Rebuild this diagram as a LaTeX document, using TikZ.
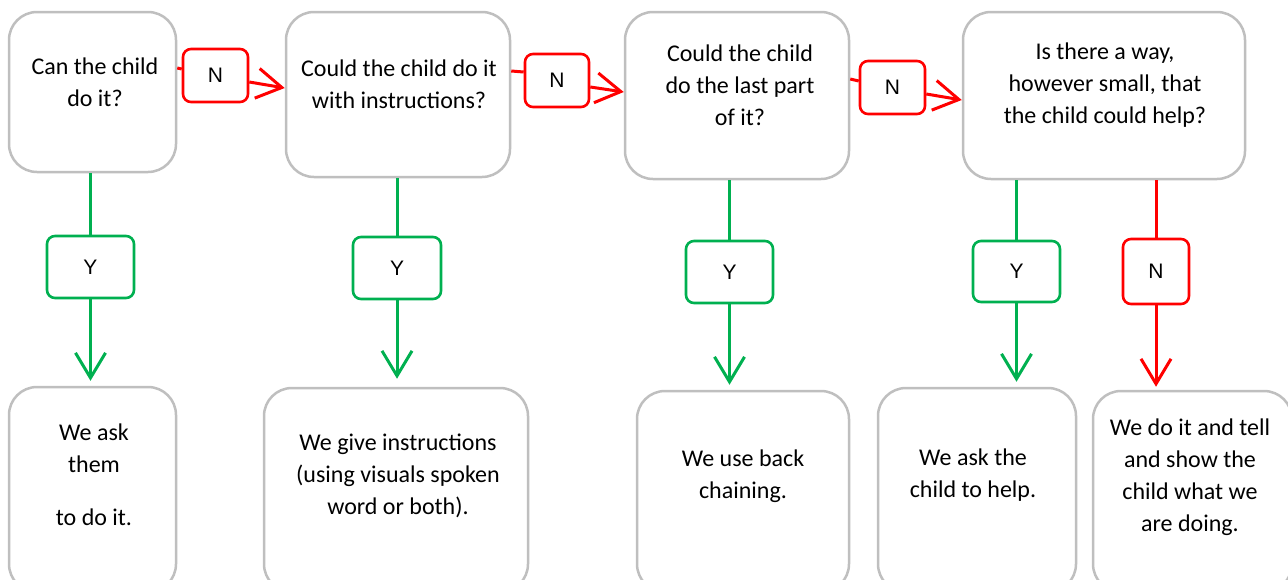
\documentclass[tikz,border=0pt]{standalone}
\usepackage{fontspec}
\setmainfont{Carlito}
\newfontfamily\lblfont{Liberation Sans}
\usetikzlibrary{arrows.meta}
\definecolor{boxgray}{RGB}{191,191,191}
\definecolor{ygreen}{RGB}{0,176,80}
\definecolor{nred}{RGB}{255,0,0}
\begin{document}
\begin{tikzpicture}[x=1pt,y=-1pt,
  qbox/.style={draw=boxgray, line width=2.5pt, rounded corners=28pt, fill=white, inner sep=0pt},
  lbl/.style={line width=2.6pt, rounded corners=8pt, fill=white, inner sep=0pt,
    font=\lblfont\fontsize{21}{24}\selectfont},
  ylbl/.style={lbl, draw=ygreen},
  nlbl/.style={lbl, draw=nred},
  txt/.style={align=center, inner sep=0pt, font=\fontsize{24}{32}\selectfont},
  gline/.style={draw=ygreen, line width=3pt},
  rline/.style={draw=nred, line width=3pt},
  tipstyle/.style={-{Straight Barb[length=25pt,width=30pt]}},
  garrow/.style={gline, tipstyle},
  rarrow/.style={rline, tipstyle}
]
\useasboundingbox (0,0) rectangle (1288,579);
\clip (0,0) rectangle (1288,579);

% question boxes
\node[qbox, minimum width=167pt, minimum height=160pt] (A1) at (92.5,92) {};
\node[qbox, minimum width=224pt, minimum height=165pt] (A2) at (398,94.5) {};
\node[qbox, minimum width=224pt, minimum height=167pt] (A3) at (737,95.5) {};
\node[qbox, minimum width=282pt, minimum height=167pt] (A4) at (1104,95.5) {};

\node[txt] (A1t) at (95,82) {Can the child\\do it?};
\node[txt] (A2t) at (399,84) {Could the child do it\\with instructions?};
\node[txt] (A3t) at (740,85) {Could the child\\do the last part\\of it?};
\node[txt] (A4t) at (1105,85) {Is there a way,\\however small, that\\the child could help?};

% answer boxes
\node[qbox, minimum width=167pt, minimum height=205pt] (B1) at (92.5,489.5) {};
\node[qbox, minimum width=264pt, minimum height=204pt] (B2) at (396,490) {};
\node[qbox, minimum width=212pt, minimum height=201pt] (B3) at (743,491.5) {};
\node[qbox, minimum width=198pt, minimum height=204pt] (B4) at (977,490) {};
\node[qbox, minimum width=199pt, minimum height=201pt] (B5) at (1192.5,491.5) {};

\node[txt] (B1t) at (94,475) {We ask\\them\\[21pt]to do it.};
\node[txt] (B2t) at (398,475.5) {We give instructions\\(using visuals spoken\\word or both).};
\node[txt] (B3t) at (743,476) {We use back\\chaining.};
\node[txt] (B4t) at (973,475) {We ask the\\child to help.};
\node[txt] (B5t) at (1190,477.5) {We do it and tell\\and show the\\child what we\\are doing.};

% N labels (horizontal)
\node[nlbl, minimum width=65pt, minimum height=53pt] (N1) at (215.5,75.5) {N};
\node[nlbl, minimum width=64pt, minimum height=53pt] (N2) at (557,80.5) {N};
\node[nlbl, minimum width=65pt, minimum height=53pt] (N3) at (892.5,87.5) {N};

% Y labels
\node[ylbl, minimum width=87pt, minimum height=62pt] (Y1) at (90.5,267) {Y};
\node[ylbl, minimum width=88pt, minimum height=62pt] (Y2) at (397,268) {Y};
\node[ylbl, minimum width=87pt, minimum height=62pt] (Y3) at (729.5,272) {Y};
\node[ylbl, minimum width=87pt, minimum height=61pt] (Y4) at (1016.5,271.5) {Y};
\node[nlbl, minimum width=66pt, minimum height=65pt] (N5) at (1156,271.5) {N};

% horizontal connectors
\draw[rline] ([yshift=24pt]A1.east) -- ([yshift=6.5pt]N1.west);
\draw[rarrow] ([yshift=-6.5pt]N1.east) -- ([yshift=6.5pt]A2.west);
\draw[rline] ([yshift=23.5pt]A2.east) -- ([yshift=8.5pt]N2.west);
\draw[rarrow] ([yshift=-6.5pt]N2.east) -- ([yshift=3.5pt]A3.west);
\draw[rline] ([yshift=16.5pt]A3.east) -- ([yshift=6.5pt]N3.west);
\draw[rarrow] ([yshift=-6.5pt]N3.east) -- ([yshift=-4.5pt]A4.west);

% vertical connectors
\draw[gline] (Y1.north |- A1.south) -- (Y1.north);
\draw[garrow, shorten >=5pt] (Y1.south) -- (Y1.south |- B1.north);
\draw[gline] (Y2.north |- A2.south) -- (Y2.north);
\draw[garrow, shorten >=8pt] (Y2.south) -- (Y2.south |- B2.north);
\draw[gline] (Y3.north |- A3.south) -- (Y3.north);
\draw[garrow, shorten >=5pt] (Y3.south) -- (Y3.south |- B3.north);
\draw[gline] (Y4.north |- A4.south) -- (Y4.north);
\draw[garrow, shorten >=5pt] (Y4.south) -- (Y4.south |- B4.north);
\draw[rline] (N5.north |- A4.south) -- (N5.north);
\draw[rarrow, shorten >=3pt] (N5.south) -- (N5.south |- B5.north);
\end{tikzpicture}
\end{document}
